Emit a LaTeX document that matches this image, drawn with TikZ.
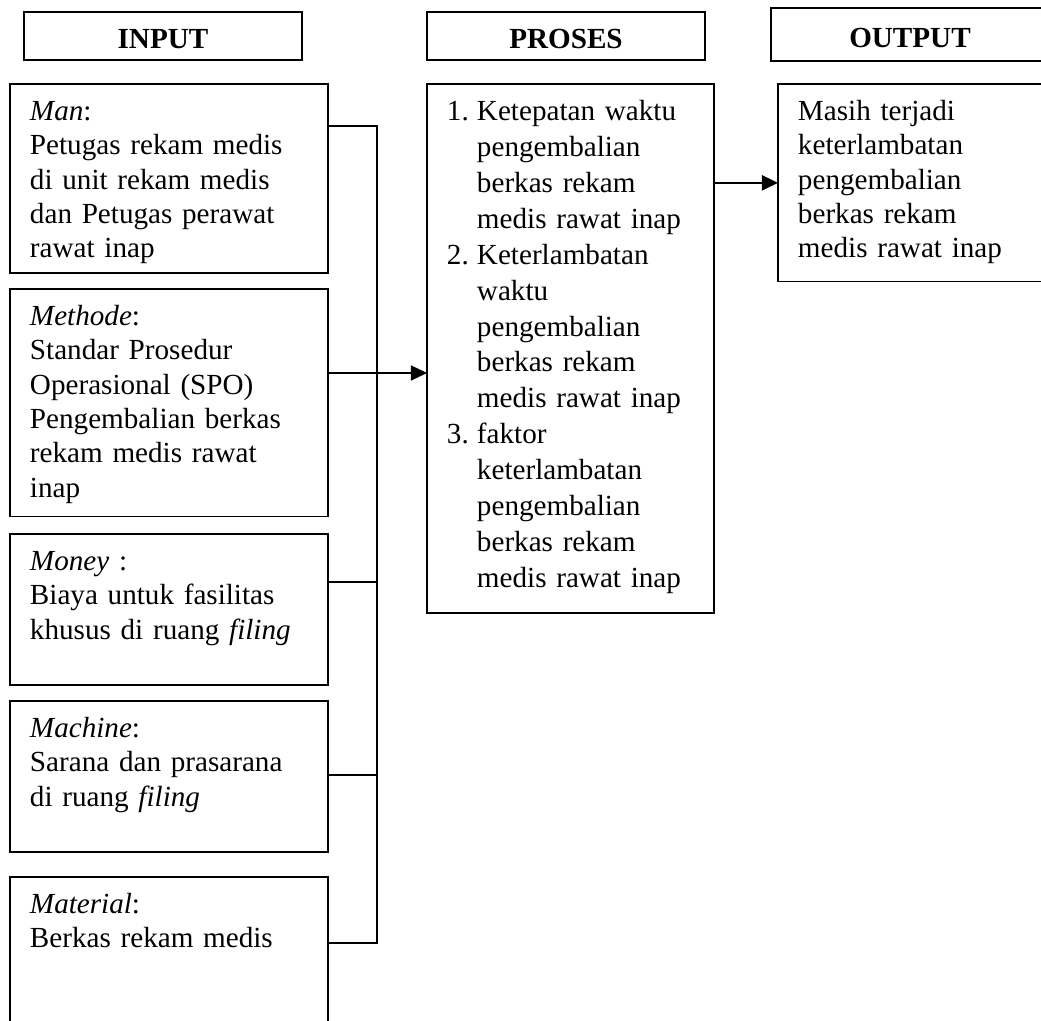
\documentclass[tikz,border=0pt]{standalone}
\usepackage{fontspec}
\setmainfont{Liberation Serif}
\usetikzlibrary{arrows.meta}

\begin{document}
\begin{tikzpicture}
  [x=0.4117pt, y=-0.4117pt,
   head/.style={draw, line width=0.5pt, anchor=north west, font=\bfseries\fontsize{12}{14}\selectfont, minimum width=114.45pt, inner sep=0pt, outer sep=0pt, text height=15.23pt, text depth=4.53pt},
   block/.style={draw, line width=0.5pt, anchor=north west, align=left, font=\fontsize{12}{14.12}\selectfont, inner xsep=8.23pt, inner ysep=0pt, outer sep=0pt, text width=114.45pt, text height=15.11pt},
   bus/.style={draw, line width=0.95pt},
   feed/.style={draw, line width=0.45pt, -{Triangle[length=6.6pt, width=6.2pt]}},
   flow/.style={draw, line width=0.85pt, -{Triangle[length=6.6pt, width=6.2pt]}}]
  \useasboundingbox (0,0) rectangle (1041,1021);
  % Define nodes
  \node[head] (input) at (24,12) {INPUT};
  \node[head] (proses) at (427,12) {PROSES};
  \node[head, text height=16.06pt, text depth=5.76pt] (output) at (771,8) {OUTPUT};
  \node[block, text depth=62.7pt] (man) at (10,84) {\textit{Man}:\\Petugas rekam medis\\di unit rekam medis\\dan Petugas perawat\\rawat inap};
  \node[block, text depth=78.6pt] (methode) at (10,289) {\textit{Methode}:\\Standar Prosedur\\Operasional (SPO)\\Pengembalian berkas\\rekam medis rawat\\inap};
  \node[block, text depth=47.06pt] (money) at (10,534) {\textit{Money} :\\Biaya untuk fasilitas\\khusus di ruang \textit{filing}};
  \node[block, text depth=47.06pt] (machine) at (10,701) {\textit{Machine}:\\Sarana dan prasarana\\di ruang \textit{filing}};
  \node[block, text depth=47.8pt] (material) at (10,877) {\textit{Material}:\\Berkas rekam medis};
  \node[block, text width=101.7pt, text depth=202.7pt, font=\fontsize{12}{14.78}\selectfont] (process) at (427,84) {\makebox[12.35pt][l]{1.}Ketepatan waktu\\\hspace*{12.35pt}pengembalian\\\hspace*{12.35pt}berkas rekam\\\hspace*{12.35pt}medis rawat inap\\\makebox[12.35pt][l]{2.}Keterlambatan\\\hspace*{12.35pt}waktu\\\hspace*{12.35pt}pengembalian\\\hspace*{12.35pt}berkas rekam\\\hspace*{12.35pt}medis rawat inap\\\makebox[12.35pt][l]{3.}faktor\\\hspace*{12.35pt}keterlambatan\\\hspace*{12.35pt}pengembalian\\\hspace*{12.35pt}berkas rekam\\\hspace*{12.35pt}medis rawat inap};
  \node[block, text width=98.8pt, text depth=66.3pt] (result) at (778,84) {Masih terjadi\\keterlambatan\\pengembalian\\berkas rekam\\medis rawat inap};
  % Define edges
  \coordinate (bustop) at (377,126);
  \coordinate (busbot) at (377,943);
  \coordinate (jmethode) at (377,373);
  \coordinate (jmoney) at (377,582);
  \coordinate (jmachine) at (377,775);
  \draw[bus] (man.east |- bustop) -- (bustop) -- (busbot) -- (material.east |- busbot);
  \draw[bus] (money.east |- jmoney) -- (jmoney);
  \draw[bus] (machine.east |- jmachine) -- (jmachine);
  \draw[feed] (methode.east |- jmethode) -- (process.west |- jmethode);
  \draw[flow] (process.east |- result.west) -- (result.west);
\end{tikzpicture}
\end{document}
